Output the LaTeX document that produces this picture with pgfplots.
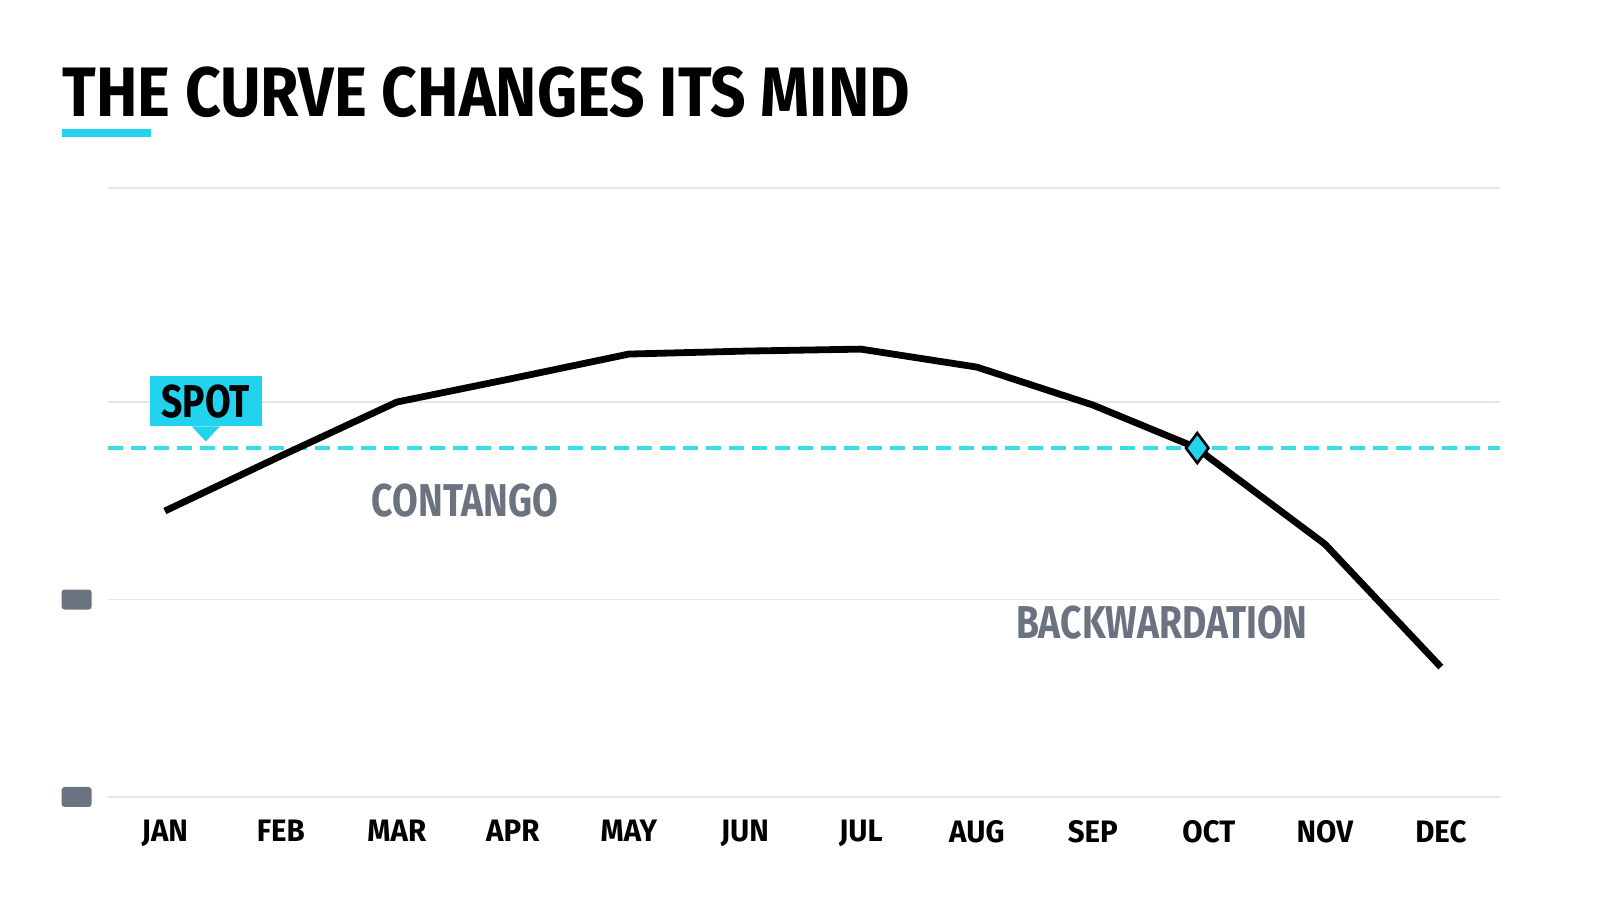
\documentclass[border=0pt]{standalone}
\usepackage{pgfplots}
\pgfplotsset{compat=1.18}
\usepackage{fontspec}
\setmainfont{Fira Sans}
\newfontfamily\cond{Fira Sans Bold}[FakeStretch=0.81]
\newfontfamily\tickfont{Fira Sans Bold}[FakeStretch=0.95]
\newfontfamily\titlefont{Fira Sans Bold}[FakeStretch=0.89]
\definecolor{spotcyan}{HTML}{22D3EE}
\definecolor{dashcyan}{HTML}{3ADCE8}
\definecolor{slate}{HTML}{6B7280}
\definecolor{gridgray}{HTML}{E3E5E8}
\newcommand{\graybox}{\tikz\fill[slate, rounded corners=1.5pt] (0,0) rectangle (15pt,10pt);}
\begin{document}
\begin{tikzpicture}
\path[use as bounding box, fill=white] (0,0) rectangle (800pt,457pt);
% title and its underline
\node[anchor=base west, inner sep=0pt, font=\titlefont\fontsize{35}{40}\selectfont] at (31pt,398.5pt) {THE CURVE CHANGES ITS MIND};
\fill[spotcyan] (31pt,388.5pt) rectangle (75.5pt,392.5pt);
\begin{axis}[
    at={(54pt,58.5pt)}, anchor=south west,
    scale only axis,
    width=696pt, height=304.5pt,
    xmin=-0.49, xmax=11.51,
    ymin=0, ymax=3.084,
    axis line style={draw=none},
    clip=false,
    xtick={0,...,11},
    xticklabels={JAN,FEB,MAR,APR,MAY,JUN,JUL,AUG,SEP,OCT,NOV,DEC},
    xticklabel style={font=\tickfont\fontsize{15.5}{18}\selectfont, anchor=north, yshift=-8pt},
    ytick={0,1,2,3.084},
    yticklabels={\graybox,\graybox,{},{}},
    yticklabel style={anchor=east, inner sep=0pt, xshift=-8pt},
    major tick length=0pt,
    ymajorgrids,
    major grid style={gridgray, line width=0.9pt},
]
% spot level
\addplot[dashcyan, line width=2.3pt, dash pattern=on 7.5pt off 4pt] coordinates {(-0.49,1.767) (11.51,1.767)};
% futures curve
\addplot[black, line width=3.4pt, line join=round] coordinates {
    (0,1.448) (1,1.727) (2,2.000) (3,2.120) (4,2.243) (5,2.258)
    (6,2.268) (7,2.177) (8,1.985) (8.9,1.767) (9,1.720) (10,1.281) (11,0.658)
};
% crossing point
\addplot[only marks, mark=diamond*, mark size=7.5pt, mark options={fill=spotcyan, draw=black, line width=1.3pt}] coordinates {(8.9,1.767)};
% annotations
\node[fill=spotcyan, minimum width=56pt, minimum height=25pt, inner sep=0pt, font=\cond\fontsize{23}{25}\selectfont] (spot) at (axis cs:0.353,2.005) {SPOT};
\fill[spotcyan] ([xshift=-7pt]spot.south) -- ([xshift=7pt]spot.south) -- ([yshift=-7.5pt]spot.south) -- cycle;
\node[text=slate, font=\cond\fontsize{23}{25}\selectfont] at (axis cs:2.586,1.499) {CONTANGO};
\node[text=slate, font=\cond\fontsize{23}{25}\selectfont] at (axis cs:8.595,0.881) {BACKWARDATION};
\end{axis}
\end{tikzpicture}
\end{document}
